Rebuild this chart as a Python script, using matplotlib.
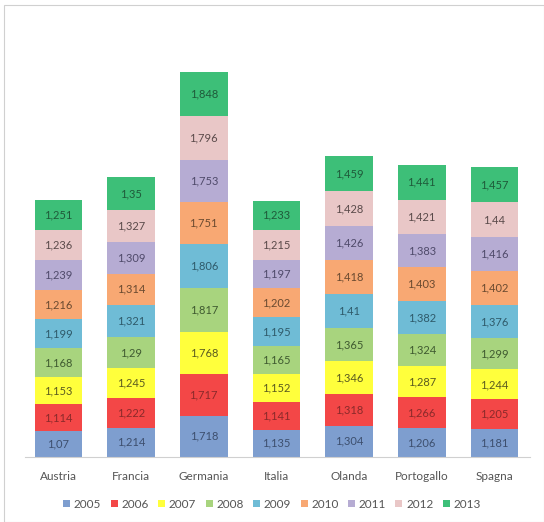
import matplotlib
matplotlib.use("Agg")
import matplotlib.pyplot as plt
from matplotlib.patches import Rectangle

plt.rcParams['font.family'] = ['Lato', 'DejaVu Sans']

countries = ["Austria", "Francia", "Germania", "Italia", "Olanda", "Portogallo", "Spagna"]
years = ["2005", "2006", "2007", "2008", "2009", "2010", "2011", "2012", "2013"]

v2005 = [1.07, 1.214, 1.718, 1.135, 1.304, 1.206, 1.181]
v2006 = [1.114, 1.222, 1.717, 1.141, 1.318, 1.266, 1.205]
v2007 = [1.153, 1.245, 1.768, 1.152, 1.346, 1.287, 1.244]
v2008 = [1.168, 1.29, 1.817, 1.165, 1.365, 1.324, 1.299]
v2009 = [1.199, 1.321, 1.806, 1.195, 1.41, 1.382, 1.376]
v2010 = [1.216, 1.314, 1.751, 1.202, 1.418, 1.403, 1.402]
v2011 = [1.239, 1.309, 1.753, 1.197, 1.426, 1.383, 1.416]
v2012 = [1.236, 1.327, 1.796, 1.215, 1.428, 1.421, 1.44]
v2013 = [1.251, 1.35, 1.848, 1.233, 1.459, 1.441, 1.457]

series = [v2005, v2006, v2007, v2008, v2009, v2010, v2011, v2012, v2013]
colors = ["#7e9ecf", "#f34747", "#ffff3c", "#a8d47e", "#6fbcd6",
          "#f8a873", "#b6acd3", "#e9c7c7", "#3dbf78"]
text_colors = ["#3d4f6e", "#8a2a2a", "#5a5a20", "#3f5a30", "#2f5a6a",
               "#6a4a30", "#4f4a6a", "#5a4a4a", "#1f5a3a"]

def fmt(v):
    s = f"{v:.3f}".rstrip('0').rstrip('.')
    return s.replace('.', ',')

fig = plt.figure(figsize=(5.44, 5.22), dpi=100)
fig.patches.append(Rectangle((4/544, 0), 540/544, 517/522, transform=fig.transFigure,
                             fill=False, edgecolor="#d0d0d0", linewidth=0.8))

ax = fig.add_axes([25/544, 65/522, 505/544, 410/522])
x = list(range(len(countries)))
bottoms = [0.0] * len(countries)
for vals, c, tc, yr in zip(series, colors, text_colors, years):
    ax.bar(x, vals, width=0.655, bottom=bottoms, color=c, label=yr, linewidth=0)
    for xi, b, v in zip(x, bottoms, vals):
        ax.text(xi, b + v / 2, fmt(v), ha='center', va='center', fontsize=8, color=tc)
    bottoms = [b + v for b, v in zip(bottoms, vals)]

ax.set_xlim(-0.461, 6.49)
ax.set_ylim(0, 17)
ax.set_yticks([])
ax.set_xticks(x)
ax.set_xticklabels(countries, fontsize=8.5, color="#555555")
ax.tick_params(axis='x', length=0, pad=10)
for s in ["top", "right", "left"]:
    ax.spines[s].set_visible(False)
ax.spines["bottom"].set_color("#d0d0d0")

fig.legend(loc='center', bbox_to_anchor=(0.5, 18/522), ncol=9, frameon=False,
           fontsize=8.5, handlelength=0.6, handleheight=0.6, handletextpad=0.3,
           columnspacing=0.8, labelcolor="#555555")

fig.savefig("out.png", dpi=100)
